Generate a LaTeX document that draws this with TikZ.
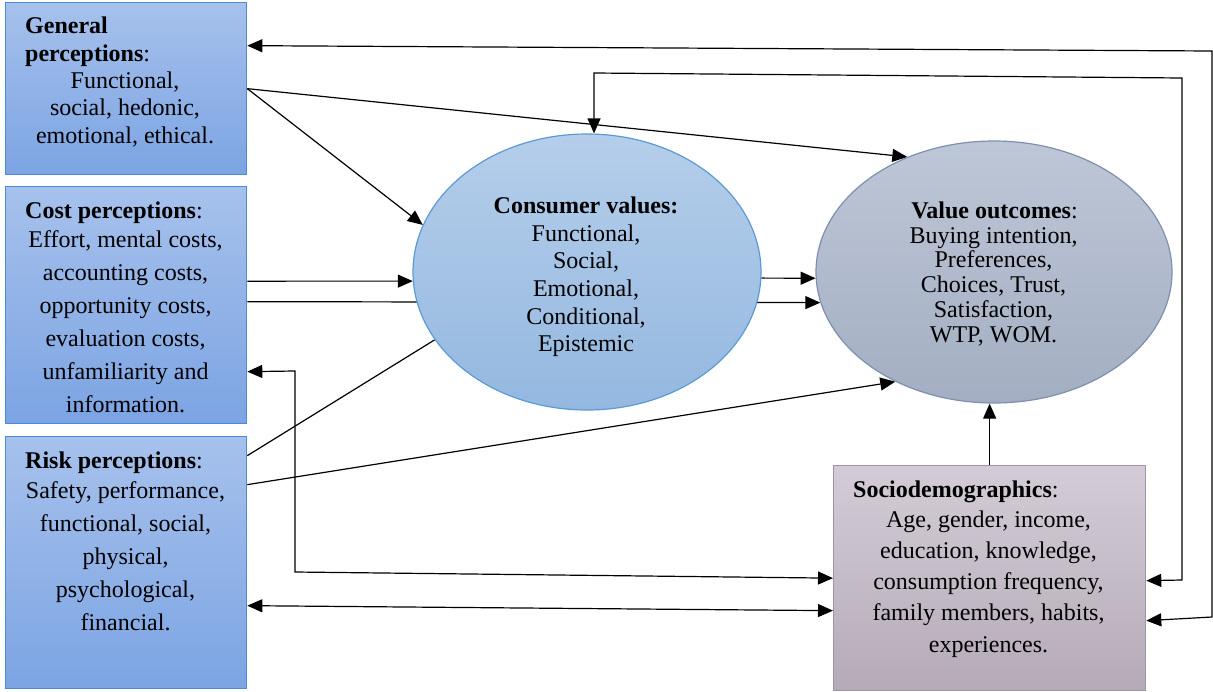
\documentclass[tikz,border=0pt]{standalone}
\usepackage{fontspec}
\setmainfont{Liberation Serif}
\usetikzlibrary{arrows.meta,shapes.geometric,calc}
\pgfdeclarelayer{bg}
\pgfsetlayers{bg,main}

\definecolor{pTop}{HTML}{A6C1EC}
\definecolor{pBot}{HTML}{7CA4E3}
\definecolor{pEdge}{HTML}{4A8AD8}
\definecolor{cTop}{HTML}{B5CEEA}
\definecolor{cBot}{HTML}{94B8E0}
\definecolor{cEdge}{HTML}{5B9BD5}
\definecolor{vTop}{HTML}{BEC7D7}
\definecolor{vBot}{HTML}{A3AEC2}
\definecolor{vEdge}{HTML}{7F8FAF}
\definecolor{sTop}{HTML}{D3CCD6}
\definecolor{sBot}{HTML}{B5ABB8}
\definecolor{sEdge}{HTML}{A193A6}

\begin{document}
\begin{tikzpicture}[x=1pt,y=-1pt,
  pbox/.style={rectangle, draw=pEdge, line width=1.3pt, top color=pTop, bottom color=pBot,
    inner sep=0pt, minimum width=241pt, anchor=north west},
  sbox/.style={rectangle, draw=sEdge, line width=1.3pt, top color=sTop, bottom color=sBot,
    inner sep=0pt, anchor=north west},
  cell/.style={ellipse, line width=1.2pt, inner sep=0pt},
  txt/.style={inner sep=0pt, anchor=base, font=\fontsize{24}{28}\selectfont},
  head/.style={txt, anchor=base west},
  arr/.style={line width=1.2pt, -{Triangle[length=15pt,width=13pt]}},
  arrs/.style={line width=1.2pt, {Triangle[length=15pt,width=13pt]}-{Triangle[length=15pt,width=13pt]}},
  link/.style={line width=1.2pt}]
\useasboundingbox (0,0) rectangle (1213,691);

% perception boxes
\node[pbox, minimum height=172pt] (gen) at (5,2) {};
\node[pbox, minimum height=237pt] (cost) at (5,186) {};
\node[pbox, minimum height=252pt] (risk) at (5,436) {};
% sociodemographics box
\node[sbox, minimum width=312pt, minimum height=225pt] (soc) at (833,465) {};
% consumer values and value outcomes
\node[cell, draw=cEdge, top color=cTop, bottom color=cBot,
  minimum width=348pt, minimum height=276pt] (cv) at (587,272) {};
\node[cell, draw=vEdge, top color=vTop, bottom color=vBot,
  minimum width=356pt, minimum height=262pt] (vo) at (994,272) {};

% connectors, drawn underneath the shapes
\begin{pgfonlayer}{bg}
  \draw[arr] (gen.east) -- (cv.164);
  \draw[arr] (gen.east) -- (vo.127);
  \draw[arr] ($(cost.east)+(0,-24)$) -- (cv.183);
  \draw[arr] ($(cost.east)+(0,-3.5)$) -- (vo.190);
  \draw[arr] (cv.-2) -- (vo.182);
  \draw[link] ($(risk.east)+(0,-107)$) -- (cv.204);
  \draw[arr] ($(risk.east)+(0,-78)$) -- (vo.228);
  \draw[arr] (soc.north) -- (soc.north |- vo.south);
  % elbow between cost perceptions and sociodemographics
  \coordinate (k1) at (295,371);
  \coordinate (k2) at (295,572);
  \draw[arrs] ($(cost.east)+(0,66.5)$) -- (k1) -- (k2) -- (soc.west);
  \draw[arrs] ($(risk.east)+(0,43)$) -- ($(soc.west)+(0,32.5)$);
  % outer feedback loop
  \coordinate (o1) at (1212,51);
  \coordinate (o2) at (1212,617);
  \draw[arrs] ($(gen.east)+(0,-43)$) -- (o1) -- (o2) -- ($(soc.east)+(0,42.5)$);
  % inner feedback loop
  \coordinate (i1) at (1182,580);
  \coordinate (i2) at (1182,78);
  \coordinate (i3) at (594,73);
  \draw[arrs] ($(soc.east)+(0,2.5)$) -- (i1) -- (i2) -- (i3) -- (i3 |- cv.north);
\end{pgfonlayer}

% general perceptions
\node[head] (gen-h1) at (25,33) {\textbf{General}};
\node[head] (gen-h2) at (25,61) {\textbf{perceptions}:};
\foreach \t [count=\i from 0] in {{Functional,},{social, hedonic,},{emotional, ethical.}}
  \node[txt] (gen-l\i) at (125,88+27.5*\i) {\t};

% cost perceptions
\node[head] (cost-h) at (25,218) {\textbf{Cost perceptions}:};
\foreach \t [count=\i from 0] in {{Effort, mental costs,},{accounting costs,},{opportunity costs,},
    {evaluation costs,},{unfamiliarity and},{information.}}
  \node[txt] (cost-l\i) at (125.5,247+33*\i) {\t};

% risk perceptions
\node[head] (risk-h) at (25,468) {\textbf{Risk perceptions}:};
\foreach \t [count=\i from 0] in {{Safety, performance,},{functional, social,},{physical,},
    {psychological,},{financial.}}
  \node[txt] (risk-l\i) at (125.5,498+33*\i) {\t};

% consumer values
\node[txt] (cv-h) at (586,213) {\textbf{Consumer values:}};
\foreach \t [count=\i from 0] in {{Functional,},{Social,},{Emotional,},{Conditional,},{Epistemic}}
  \node[txt] (cv-l\i) at (586,241+27.7*\i) {\t};

% value outcomes
\node[txt] (vo-h) at (994.5,218) {\textbf{Value outcomes}:};
\foreach \t [count=\i from 0] in {{Buying intention,},{Preferences,},{Choices, Trust,},
    {Satisfaction,},{WTP, WOM.}}
  \node[txt] (vo-l\i) at (993.5,243+24.8*\i) {\t};

% sociodemographics
\node[head] (soc-h) at (853,497) {\textbf{Sociodemographics}:};
\foreach \t [count=\i from 0] in {{Age, gender, income,},{education, knowledge,},
    {consumption frequency,},{family members, habits,},{experiences.}}
  \node[txt] (soc-l\i) at (988.5,527+31.3*\i) {\t};
\end{tikzpicture}
\end{document}
